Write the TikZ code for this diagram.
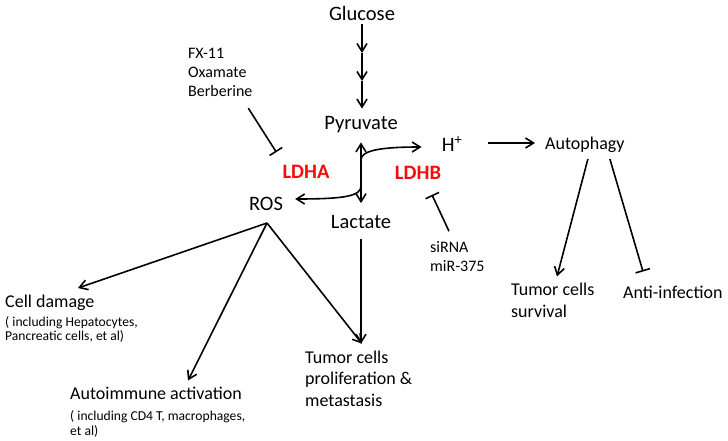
\documentclass[tikz,border=0pt]{standalone}
\usepackage{fontspec}
\setmainfont{Carlito}
\usetikzlibrary{arrows.meta}
\definecolor{ldhred}{RGB}{250,10,10}
\begin{document}
\begin{tikzpicture}[x=1pt,y=-1pt,
  big/.style={font=\fontsize{20.5}{23}\selectfont, inner sep=0pt},
  mid/.style={font=\fontsize{18}{21.5}\selectfont, inner sep=0pt, align=left},
  note/.style={font=\fontsize{16}{19.3}\selectfont, inner sep=0pt, align=left},
  small/.style={font=\fontsize{13.6}{14.8}\selectfont, inner sep=0pt, align=left},
  enz/.style={font=\fontsize{20.5}{23}\selectfont\bfseries, text=ldhred, inner sep=0pt},
  act/.style={line width=1.6pt, -{Straight Barb[length=8pt,width=10pt,line width=1.6pt]}},
  dact/.style={line width=1.6pt, {Straight Barb[length=8pt,width=10pt,line width=1.6pt]}-{Straight Barb[length=8pt,width=10pt,line width=1.6pt]}},
  inh/.style={line width=1.6pt, -{Bar[width=15pt,line width=1.6pt]}}]
\useasboundingbox (0,0) rectangle (728,441);
% nodes
\node[big] (glu) at (362,13) {Glucose};
\node[big] (pyr) at (361,125) {Pyruvate};
\node[big] (lac) at (361,222) {Lactate};
\node[big] (ros) at (266,204) {ROS};
\node[big] (hp) at (452,144) {H\textsuperscript{+}};
\node[enz] (ldha) at (306,172) {LDHA};
\node[enz] (ldhb) at (418,173) {LDHB};
\node[mid,anchor=west] (aut) at (545,145) {Autophagy};
\node[note,anchor=west] (fx) at (188,72.5) {FX-11\\Oxamate\\Berberine};
\node[note,font=\fontsize{16}{19}\selectfont,anchor=west] (si) at (430,256.5) {siRNA\\miR-375};
\node[mid,anchor=west,font=\fontsize{18}{22}\selectfont] (surv) at (511,300) {Tumor cells\\survival};
\node[mid,anchor=west] (ant) at (623,292) {Anti-infection};
\node[mid,anchor=west] (cd) at (5,303) {Cell damage};
\node[small,anchor=west] (cdn) at (5,329.5) {( including Hepatocytes,\\Pancreatic cells, et al)};
\node[mid,anchor=west] (aa) at (70,393) {Autoimmune\ activation};
\node[small,anchor=west] (aan) at (70,424) {( including CD4 T, macrophages,\\et al)};
\node[mid,anchor=west] (tp) at (305,378.7) {Tumor cells\\proliferation \&\\metastasis};
% glucose to pyruvate
\coordinate (s1) at (362,53);
\coordinate (s2) at (362,81);
\draw[act] ([shift={(0,4)}]glu.south) -- (s1);
\draw[act] (s1) -- (s2);
\draw[act] (s2) -- ([shift={(1,-8)}]pyr.north);
% pyruvate <-> lactate
\draw[dact] ([shift={(0,9)}]pyr.south) -- ([shift={(0,-12)}]lac.north);
\coordinate (m1) at (361,160);
\coordinate (m2) at (361,186);
\draw[act] (m1) .. controls (361,151) and (378,147) .. ([shift={(-20,3)}]hp.west);
\draw[act] (m2) .. controls (361,196) and (345,199) .. ([shift={(12,-5)}]ros.east);
% inhibitors
\draw[inh] ([shift={(28,11)}]fx.south) -- ([shift={(-6,-13)}]ldha.north west);
\draw[inh] ([shift={(19,-10)}]si.north west) -- ([shift={(14,15)}]ldhb.south);
% autophagy
\draw[act] ([shift={(26,-1)}]hp.east) -- ([shift={(-10,-2)}]aut.west);
\draw[act] ([shift={(3,6)}]aut.south) -- ([shift={(46,-6)}]surv.north west);
\draw[inh] ([shift={(25,6)}]aut.south) -- ([shift={(20,-14)}]ant.north west);
% ROS branches
\coordinate (rb) at (267,223);
\draw[act] (rb) -- ([shift={(73,-7)}]cd.north west);
\draw[act] (rb) -- ([shift={(118,-6)}]aa.north west);
\draw[act] (rb) -- ([shift={(57,-7)}]tp.north west);
\draw[act] ([shift={(0,10)}]lac.south) -- ([shift={(56,-7)}]tp.north west);
\end{tikzpicture}
\end{document}
